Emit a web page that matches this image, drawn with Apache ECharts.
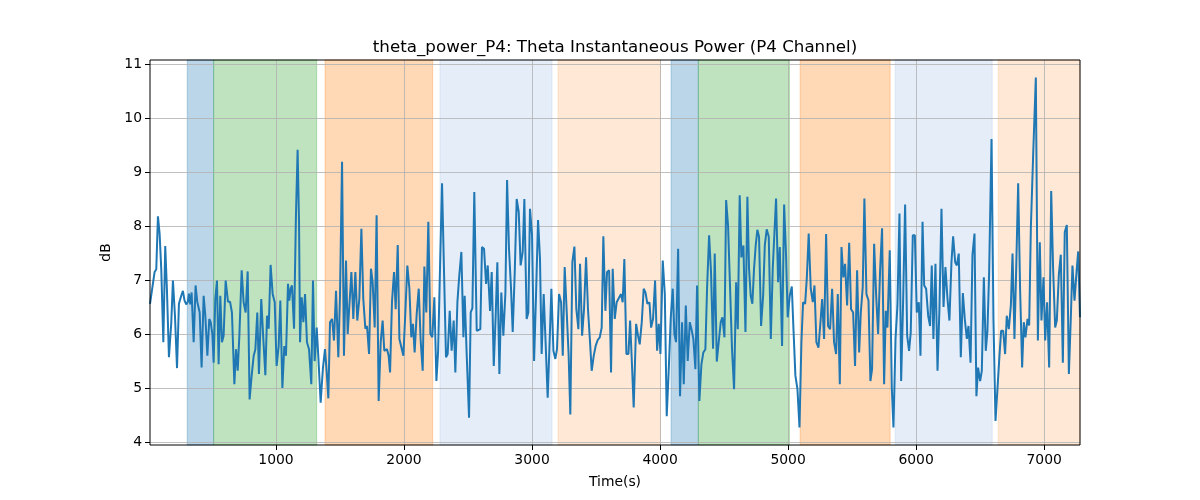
<!DOCTYPE html>
<html>
<head>
<meta charset="utf-8">
<script src="https://cdn.jsdelivr.net/npm/echarts@6/dist/echarts.min.js"></script>
<style>html,body{margin:0;padding:0;background:#fff}#c{width:1200px;height:500px}</style>
</head>
<body>
<div id="c"></div>
<script>
// ---- data ----
const chartTitle = 'theta_power_P4: Theta Instantaneous Power (P4 Channel)';
const xName = 'Time(s)';
const yName = 'dB';
const xTicks = [1000, 2000, 3000, 4000, 5000, 6000, 7000];
const yTicks = [4, 5, 6, 7, 8, 9, 10, 11];
const xRange = [16, 7280];
const yRange = [3.946, 11.074];

const bandStart = [307, 513, 1383, 2281, 3203, 4086, 4299, 5094, 5836, 6641];
const bandEnd   = [513, 1318, 2224, 3156, 4003, 4299, 5010, 5797, 6594, 7280];
const bandKind  = ['A', 'B', 'C', 'D', 'E', 'A', 'B', 'C', 'D', 'E'];

const signal = [
[16,6.56],[52,7.15],[65,7.2],[78,8.18],[91,7.86],[104,7.2],[120,5.85],[135,7.63],[148,6.84],[164,5.57],
[182,6.2],[195,6.99],[211,6.34],[227,5.37],[242,6.56],[260,6.71],[273,6.8],[286,6.62],[299,6.55],[312,6.6],
[320,6.75],[331,6.55],[341,6.77],[357,5.85],[372,6.9],[385,6.6],[404,6.4],[419,5.38],[435,6.71],[448,6.34],
[464,5.6],[479,6.28],[490,6.22],[503,6.0],[513,5.47],[526,6.65],[539,6.99],[552,5.44],[565,6.71],[578,5.85],
[591,5.97],[607,6.99],[625,6.6],[641,6.6],
[656,6.4],[675,5.07],[688,5.72],[701,5.32],[714,5.97],[732,7.18],[747,6.59],[763,6.4],[779,7.16],[794,4.79],
[810,5.23],[826,5.6],[839,5.72],[854,6.4],[867,5.26],[885,6.65],[901,5.91],[917,5.24],[930,6.34],[943,6.1],
[958,7.28],[974,6.74],[990,6.59],[1005,5.41],[1021,5.78],[1034,6.62],[1050,5.0],[1065,5.78],[1078,5.6],[1094,6.93],
[1104,6.62],[1115,6.84],[1125,6.9],[1141,6.1],[1156,8.2],[1169,9.41],[1180,8.08],[1188,5.85],[1201,6.68],[1214,6.22],
[1227,6.74],[1242,5.85],
[1258,5.72],[1276,5.07],[1289,6.99],[1302,5.5],[1318,6.12],[1331,5.57],[1349,4.73],[1367,5.38],[1383,5.72],[1396,5.3],
[1409,4.81],[1422,6.22],[1438,6.28],[1453,5.88],[1469,6.8],[1487,5.57],[1500,6.71],[1516,9.19],[1531,5.6],[1547,7.36],
[1560,6.0],[1573,6.03],[1589,7.15],[1604,6.28],[1620,7.15],[1635,6.25],[1651,6.65],[1667,7.95],[1682,6.65],[1698,6.1],
[1711,6.15],[1727,5.63],[1742,7.21],[1755,6.96],[1771,6.12],[1786,8.2],[1802,4.76],[1818,5.85],[1833,6.25],[1846,5.69],
[1867,5.72],[1880,5.6],[1891,5.29],[1906,6.59],[1922,7.15],[1935,6.46],[1951,7.65],[1964,5.91],[1979,5.88],[1995,5.6],
[2010,6.37],[2026,7.27],[2042,6.84],[2057,5.94],[2070,6.19],[2083,5.66],[2099,6.37],[2115,6.84],[2130,5.88],[2146,5.32],
[2159,7.25],[2174,6.4],[2190,8.08],[2206,6.0],[2221,5.94],[2237,6.68],[2253,5.13],[2266,5.66],[2281,7.21],[2297,8.79],
[2312,7.21],[2328,5.57],[2341,5.63],[2357,6.43],[2372,5.69],[2388,6.25],[2401,5.29],[2417,6.59],[2432,7.09],[2448,7.52],
[2464,5.94],
[2474,6.71],[2490,5.6],[2508,4.45],[2521,6.4],[2534,6.48],[2549,8.63],[2568,6.06],[2581,6.06],[2596,6.09],[2609,7.61],
[2625,7.58],[2641,6.93],[2654,7.27],[2672,6.43],[2685,7.15],[2701,5.41],[2716,6.34],[2729,7.33],[2745,5.26],[2760,6.77],
[2776,5.97],[2792,6.77],[2805,8.85],[2820,7.58],[2836,6.84],[2849,6.04],[2865,7.15],[2880,8.5],[2896,8.26],[2911,7.27],
[2927,7.52],[2940,8.5],[2958,6.28],[2971,6.4],[2984,8.32],[3000,7.83],[3016,5.5],[3031,6.71],[3047,8.11],[3062,7.4],
[3075,5.63],
[3091,6.74],[3107,5.78],[3122,4.82],[3138,5.9],[3151,6.84],[3167,5.69],[3182,5.54],[3195,5.72],[3211,6.74],[3227,6.59],
[3240,5.6],[3255,7.24],[3271,6.4],[3286,5.6],[3299,4.51],[3315,7.33],[3331,7.62],[3346,6.46],[3362,6.09],[3375,7.3],
[3391,5.97],[3406,6.46],[3422,7.42],[3437,6.46],[3453,5.85],[3466,5.32],[3482,5.6],[3497,5.78],[3513,5.89],[3529,5.94],
[3544,6.12],[3557,7.81],[3573,6.43],[3586,7.15],[3602,7.18],[3617,5.29],[3630,7.21],[3646,6.28],[3661,6.59],[3675,6.62],
[3695,6.74],[3708,6.59],[3721,7.39],[3737,5.63],[3753,5.63],[3766,6.25],[3781,5.41],[3794,4.64],[3813,6.19],[3828,5.97],
[3841,5.81],[3857,6.22],[3872,6.84],[3886,6.77],[3901,6.56],[3917,6.59],[3930,6.12],[3945,6.28],[3961,6.99],[3977,5.69],
[3990,6.19],[4003,5.63],[4021,7.36],[4037,6.74],[4052,4.48],[4068,5.35],[4083,6.28],[4099,6.84],[4112,6.0],[4125,5.85],
[4141,7.58],[4156,4.85],[4172,6.22],[4185,5.07],[4201,6.53],[4216,5.5],[4232,6.22],[4248,6.06],[4260,5.91],[4276,5.35],
[4289,6.9],
[4307,4.76],[4323,5.44],[4338,5.66],[4354,5.72],[4367,6.84],[4383,7.83],[4398,7.15],[4414,5.73],[4427,7.49],[4443,5.49],
[4458,5.85],[4474,6.22],[4487,6.31],[4503,5.94],[4516,8.48],[4531,8.01],[4547,6.84],[4562,5.72],[4578,4.98],[4594,6.96],
[4607,6.09],[4622,8.57],[4635,7.42],[4651,7.64],[4667,6.04],[4682,8.54],[4695,7.21],[4708,6.71],[4721,6.56],[4734,7.21],
[4747,7.64],[4760,7.93],[4773,7.8],[4789,6.15],[4805,6.71],[4818,7.64],[4833,7.94],[4849,7.8],[4865,5.91],[4880,7.21],
[4906,8.51],[4922,6.96],[4935,7.61],[4953,5.78],[4969,8.4],[4984,7.46],[4997,6.31],[5013,6.71],[5029,6.88],[5042,6.09],
[5057,5.23],[5073,4.98],[5089,4.27],[5104,5.85],[5117,6.59],[5133,6.56],[5146,7.03],[5161,7.86],[5177,6.84],[5193,6.59],
[5206,6.9],[5221,5.85],[5237,5.75],[5253,6.22],[5266,6.65],[5281,5.91],[5297,7.85],[5312,6.15],[5328,6.09],[5344,6.84],
[5359,5.85],[5375,5.63],[5388,6.74],[5404,5.07],[5417,7.61],[5432,7.05],[5445,7.3],[5461,6.53],[5477,7.69],[5492,6.46],
[5508,6.4],
[5523,5.41],[5539,7.18],[5555,5.66],[5568,6.4],[5583,6.87],[5596,8.51],[5612,6.74],[5628,6.62],[5643,5.13],[5656,5.35],
[5672,7.67],[5688,6.71],[5703,6.0],[5719,7.21],[5734,7.96],[5750,5.07],[5763,6.43],[5776,6.12],[5794,7.55],[5810,5.0],
[5823,4.27],[5839,5.91],[5854,6.53],[5870,8.23],[5883,5.13],[5898,6.56],[5914,8.4],[5930,5.97],[5945,5.69],[5958,6.03],
[5974,7.83],[5990,7.83],[6005,6.4],[6021,6.59],[6034,5.6],[6050,8.08],[6063,6.9],[6078,6.84],[6094,6.34],[6109,6.15],
[6122,7.27],[6135,5.91],[6151,7.3],[6167,5.32],[6182,6.46],[6198,8.32],[6214,6.5],[6229,7.24],[6245,6.65],[6260,6.25],
[6276,7.33],[6289,7.81],[6305,7.33],[6318,7.27],[6333,7.49],[6349,5.57],[6365,6.76],[6380,6.28],[6396,5.91],[6409,6.15],
[6425,5.47],[6440,7.46],[6456,7.86],[6471,4.85],[6484,5.38],[6500,5.13],[6513,5.32],[6529,7.05],[6544,5.69],[6557,6.06],
[6570,7.11],[6589,9.61],[6604,6.28],[6620,4.39],[6635,4.98],[6651,5.6],[6664,6.06],[6680,6.06],[6695,5.63],[6708,6.34],
[6724,6.09],
[6740,6.53],[6753,7.49],[6768,5.91],[6781,7.15],[6797,8.79],[6812,6.84],[6828,5.38],[6841,6.22],[6854,5.94],[6870,6.28],
[6883,6.16],[6896,7.95],[6914,9.31],[6935,10.75],[6951,5.88],[6966,7.7],[6979,6.25],[6995,7.05],[7008,5.88],[7023,6.59],
[7039,5.38],[7055,8.65],[7070,7.21],[7086,6.12],[7099,6.25],[7115,7.11],[7130,7.47],[7146,5.47],[7161,7.89],[7177,8.02],
[7193,5.26],[7208,6.28],[7221,7.27],[7237,6.62],[7253,7.15],[7266,7.53],[7280,6.31]
];

// ---- styles / layout ----
const FONT = 'DejaVu Sans';
const GRID = { left: 150, right: 120, top: 60, bottom: 55 };
const W = 1200, H = 500;
const kindColor = {
  A: 'rgba(31,119,180,0.3)',
  B: 'rgba(44,160,44,0.3)',
  C: 'rgba(255,127,14,0.3)',
  D: 'rgba(174,199,232,0.32)',
  E: 'rgba(255,127,14,0.17)'
};

const chart = echarts.init(document.getElementById('c'), null, { renderer: 'canvas', width: W, height: H });

const bands = bandStart.map((s, i) => [
  { xAxis: s, itemStyle: { color: kindColor[bandKind[i]], borderColor: kindColor[bandKind[i]], borderWidth: 1 } },
  { xAxis: bandEnd[i] }
]);

const tickFont = { color: '#000', fontSize: 13.9, fontFamily: FONT };

chart.setOption({
  animation: false,
  backgroundColor: '#fff',
  title: {
    text: chartTitle,
    left: GRID.left + (W - GRID.left - GRID.right) / 2,
    textAlign: 'center',
    top: 39,
    padding: 0,
    textStyle: { color: '#000', fontSize: 16.7, fontWeight: 'normal', fontFamily: FONT }
  },
  grid: Object.assign({ containLabel: false, outerBoundsMode: 'none' }, GRID),
  xAxis: {
    type: 'value',
    min: xRange[0], max: xRange[1],
    splitNumber: 7, minInterval: 1000, maxInterval: 1000,
    z: 1.5,
    axisLine: { show: false },
    axisTick: { show: true, length: 5, customValues: xTicks, lineStyle: { color: '#000', width: 1 } },
    axisLabel: Object.assign({ customValues: xTicks, margin: 8, formatter: v => String(v) }, tickFont),
    splitLine: { show: true, lineStyle: { color: '#b0b0b0', width: 0.8 } },
    name: xName, nameLocation: 'middle', nameGap: 30,
    nameTextStyle: { color: '#000', fontSize: 13.9, fontFamily: FONT }
  },
  yAxis: {
    type: 'value',
    min: yRange[0], max: yRange[1],
    splitNumber: 7, minInterval: 1, maxInterval: 1,
    z: 1.5,
    axisLine: { show: false },
    axisTick: { show: true, length: 5, customValues: yTicks, lineStyle: { color: '#000', width: 1 } },
    axisLabel: Object.assign({ customValues: yTicks, margin: 8, formatter: v => String(v) }, tickFont),
    splitLine: { show: true, lineStyle: { color: '#b0b0b0', width: 0.8 } },
    name: yName, nameLocation: 'middle', nameGap: 30, nameRotate: 90,
    nameTextStyle: { color: '#000', fontSize: 13.9, fontFamily: FONT }
  },
  graphic: [{
    type: 'rect', z: 100, silent: true,
    shape: { x: GRID.left, y: GRID.top, width: W - GRID.left - GRID.right, height: H - GRID.top - GRID.bottom },
    style: { fill: null, stroke: '#000', lineWidth: 1 }
  }],
  series: [
    {
      type: 'line', name: 'bands', data: [], z: 0, silent: true,
      markArea: { silent: true, data: bands }
    },
    {
      type: 'line', name: 'theta', data: signal, z: 2,
      showSymbol: false, symbol: 'none', clip: true,
      lineStyle: { color: '#1f77b4', width: 2 },
      emphasis: { disabled: true }
    }
  ]
});
</script>
</body>
</html>
